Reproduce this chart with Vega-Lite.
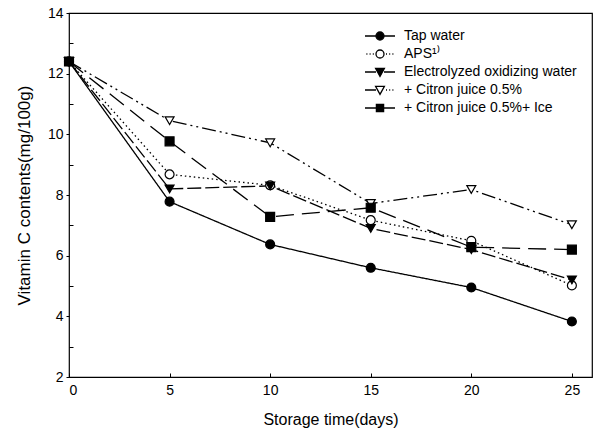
{
  "$schema": "https://vega.github.io/schema/vega-lite/v6.json",
  "width": 523,
  "height": 364,
  "autosize": {"type": "none"},
  "padding": {"left": 69, "top": 13, "right": 5, "bottom": 55},
  "background": "white",
  "config": {
    "view": {"stroke": "black", "strokeWidth": 1.2},
    "font": "Liberation Sans",
    "axis": {
      "labelFont": "Liberation Sans",
      "labelFontSize": 14,
      "labelColor": "black",
      "titleFont": "Liberation Sans",
      "titleFontSize": 16,
      "titleFontWeight": "normal",
      "titleColor": "black",
      "tickColor": "black",
      "domainColor": "black",
      "grid": false
    }
  },
  "data": {
    "values": [
      {"series": "Tap water", "day": 0, "vitc": 12.4},
      {"series": "Tap water", "day": 5, "vitc": 7.78},
      {"series": "Tap water", "day": 10, "vitc": 6.37},
      {"series": "Tap water", "day": 15, "vitc": 5.6},
      {"series": "Tap water", "day": 20, "vitc": 4.95},
      {"series": "Tap water", "day": 25, "vitc": 3.83},
      {"series": "APS¹⁾", "day": 0, "vitc": 12.4},
      {"series": "APS¹⁾", "day": 5, "vitc": 8.68},
      {"series": "APS¹⁾", "day": 10, "vitc": 8.32},
      {"series": "APS¹⁾", "day": 15, "vitc": 7.17},
      {"series": "APS¹⁾", "day": 20, "vitc": 6.49},
      {"series": "APS¹⁾", "day": 25, "vitc": 5.02},
      {"series": "Electrolyzed oxidizing water", "day": 0, "vitc": 12.4},
      {"series": "Electrolyzed oxidizing water", "day": 5, "vitc": 8.2},
      {"series": "Electrolyzed oxidizing water", "day": 10, "vitc": 8.3},
      {"series": "Electrolyzed oxidizing water", "day": 15, "vitc": 6.9},
      {"series": "Electrolyzed oxidizing water", "day": 20, "vitc": 6.2},
      {"series": "Electrolyzed oxidizing water", "day": 25, "vitc": 5.2},
      {"series": "+ Citron juice 0.5%", "day": 0, "vitc": 12.4},
      {"series": "+ Citron juice 0.5%", "day": 5, "vitc": 10.45},
      {"series": "+ Citron juice 0.5%", "day": 10, "vitc": 9.72},
      {"series": "+ Citron juice 0.5%", "day": 15, "vitc": 7.72},
      {"series": "+ Citron juice 0.5%", "day": 20, "vitc": 8.18},
      {"series": "+ Citron juice 0.5%", "day": 25, "vitc": 7.02},
      {"series": "+ Citron juice 0.5%+ Ice", "day": 0, "vitc": 12.4},
      {"series": "+ Citron juice 0.5%+ Ice", "day": 5, "vitc": 9.77},
      {"series": "+ Citron juice 0.5%+ Ice", "day": 10, "vitc": 7.28},
      {"series": "+ Citron juice 0.5%+ Ice", "day": 15, "vitc": 7.58},
      {"series": "+ Citron juice 0.5%+ Ice", "day": 20, "vitc": 6.28},
      {"series": "+ Citron juice 0.5%+ Ice", "day": 25, "vitc": 6.2}
    ]
  },
  "encoding": {
    "x": {
      "field": "day", "type": "quantitative",
      "scale": {"domain": [0, 26], "nice": false, "zero": false},
      "axis": {
        "title": "Storage time(days)",
        "values": [0, 5, 10, 15, 20, 25],
        "tickSize": -4,
        "labelPadding": 10,
        "domain": false,
        "titleY": 42,
        "titleBaseline": "middle"
      }
    },
    "y": {
      "field": "vitc", "type": "quantitative",
      "scale": {"domain": [2, 14], "nice": false, "zero": false},
      "axis": {
        "title": "Vitamin C contents(mg/100g)",
        "titleFontSize": 17,
        "values": [2, 3, 4, 5, 6, 7, 8, 9, 10, 11, 12, 13, 14],
        "labelExpr": "datum.value % 2 == 0 ? datum.label : ''",
        "tickSize": {"condition": {"test": "datum.value % 2 == 0", "value": 3}, "value": -4},
        "labelPadding": 3,
        "domain": false,
        "titleX": -45,
        "titleY": 182,
        "titleBaseline": "middle"
      }
    }
  },
  "layer": [
    {
      "mark": {"type": "line", "color": "black", "strokeWidth": 1.3},
      "encoding": {
        "detail": {"field": "series"},
        "strokeDash": {
          "field": "series", "type": "nominal",
          "scale": {
            "domain": ["Tap water", "APS¹⁾", "Electrolyzed oxidizing water", "+ Citron juice 0.5%", "+ Citron juice 0.5%+ Ice"],
            "range": [[1, 0], [1.5, 3], [14, 4], [14, 4, 2, 4, 2, 4], [18, 8]]
          },
          "legend": null
        }
      }
    },
    {
      "mark": {"type": "point", "filled": true, "stroke": "black", "strokeWidth": 1.2, "size": 80, "opacity": 1},
      "encoding": {
        "shape": {
          "field": "series", "type": "nominal",
          "scale": {
            "domain": ["Tap water", "APS¹⁾", "Electrolyzed oxidizing water", "+ Citron juice 0.5%", "+ Citron juice 0.5%+ Ice"],
            "range": ["circle", "circle", "triangle-down", "triangle-down", "square"]
          },
          "legend": null
        },
        "fill": {
          "field": "series", "type": "nominal",
          "scale": {
            "domain": ["Tap water", "APS¹⁾", "Electrolyzed oxidizing water", "+ Citron juice 0.5%", "+ Citron juice 0.5%+ Ice"],
            "range": ["black", "white", "black", "white", "black"]
          },
          "legend": null
        }
      }
    },
    {
      "mark": {"type": "point", "filled": true, "opacity": 0},
      "encoding": {
        "shape": {
          "field": "series", "type": "nominal",
          "scale": {
            "domain": ["Tap water", "APS¹⁾", "Electrolyzed oxidizing water", "+ Citron juice 0.5%", "+ Citron juice 0.5%+ Ice"],
            "range": [
              "M-3.75,0H-1M1,0H3.75M-1,0A1,1 0 1,0 1,0A1,1 0 1,0 -1,0Z",
              "M-3.4,0h0.25M-2.6,0h0.25M-1.8,0h0.25M1.5,0h0.25M2.3,0h0.25M3.1,0h0.25M-1,0A1,1 0 1,0 1,0A1,1 0 1,0 -1,0Z",
              "M-3.75,0H-1M1,0H3.75M-1.1,-0.9L1.1,-0.9L0,1.1Z",
              "M-3.75,0H-1M1.5,0h0.25M2.3,0h0.25M3.1,0h0.25M-1.1,-0.9L1.1,-0.9L0,1.1Z",
              "M-3.75,0H-0.9M0.9,0H3.75M-0.9,-0.9H0.9V0.9H-0.9Z"
            ]
          },
          "legend": {
            "title": null,
            "orient": "none",
            "legendX": 304,
            "legendY": 16,
            "padding": 0,
            "symbolSize": 64,
            "labelOffset": 17,
            "labelFont": "Liberation Sans",
            "labelFontSize": 14,
            "labelColor": "black",
            "rowPadding": 4,
            "labelLimit": 300,
            "encode": {
              "symbols": {
                "update": {
                  "opacity": {"value": 1},
                  "stroke": {"value": "black"},
                  "strokeWidth": {"value": 1.3}
                }
              }
            }
          }
        },
        "fill": {
          "field": "series", "type": "nominal",
          "scale": {
            "domain": ["Tap water", "APS¹⁾", "Electrolyzed oxidizing water", "+ Citron juice 0.5%", "+ Citron juice 0.5%+ Ice"],
            "range": ["black", "white", "black", "white", "black"]
          },
          "legend": {
            "title": null,
            "orient": "none",
            "legendX": 304,
            "legendY": 16,
            "padding": 0,
            "symbolSize": 64,
            "labelOffset": 17,
            "labelFont": "Liberation Sans",
            "labelFontSize": 14,
            "labelColor": "black",
            "rowPadding": 4,
            "labelLimit": 300,
            "encode": {
              "symbols": {
                "update": {
                  "opacity": {"value": 1},
                  "stroke": {"value": "black"},
                  "strokeWidth": {"value": 1.3}
                }
              }
            }
          }
        }
      }
    }
  ],
  "resolve": {"scale": {"shape": "independent", "fill": "independent"}}
}
